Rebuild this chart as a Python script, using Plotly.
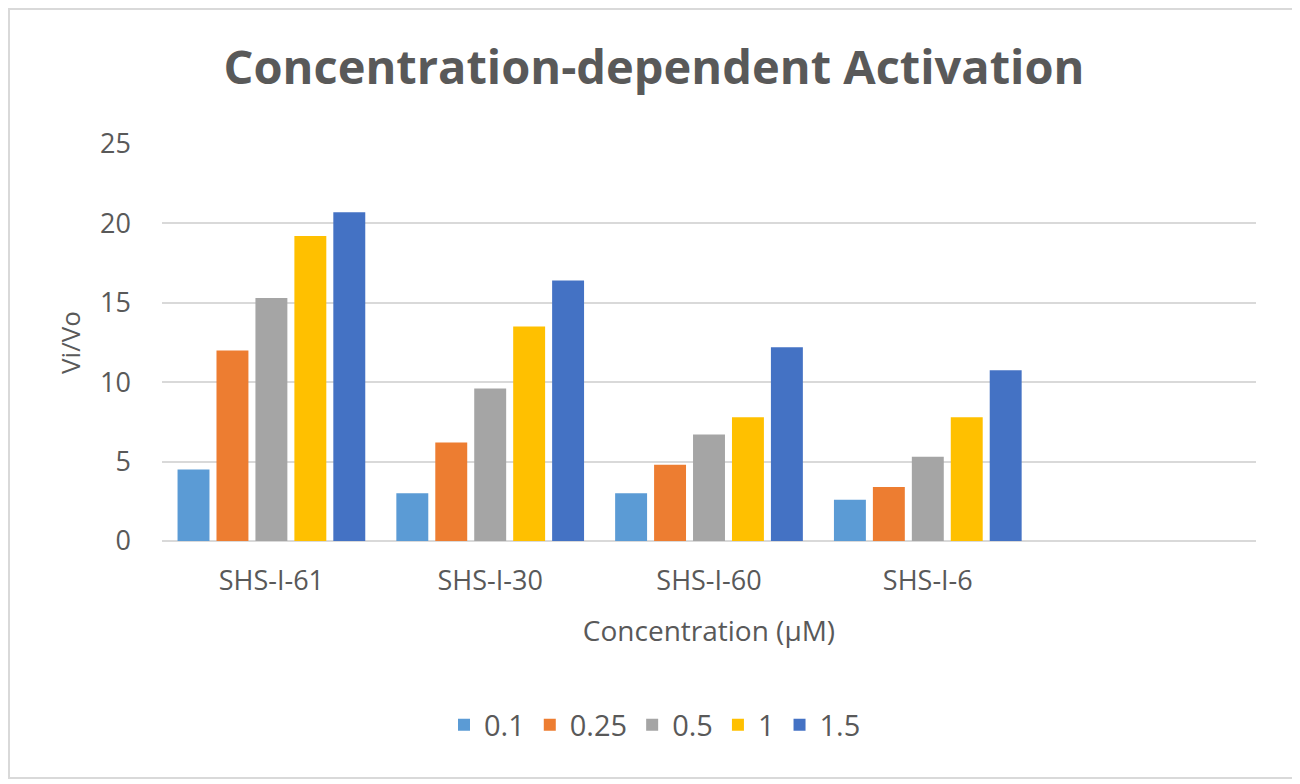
import plotly.graph_objects as go

categories = ["SHS-I-61", "SHS-I-30", "SHS-I-60", "SHS-I-6", " "]
series_names = ["0.1", "0.25", "0.5", "1", "1.5"]
v_01 = [4.5, 3.0, 3.0, 2.6, None]
v_025 = [12.0, 6.2, 4.8, 3.4, None]
v_05 = [15.3, 9.6, 6.7, 5.3, None]
v_1 = [19.2, 13.5, 7.8, 7.8, None]
v_15 = [20.7, 16.4, 12.2, 10.75, None]
colors = ["#5B9BD5", "#ED7D31", "#A5A5A5", "#FFC000", "#4472C4"]
y_ticks = [0, 5, 10, 15, 20, 25]

values = [v_01, v_025, v_05, v_1, v_15]

fig = go.Figure()
for name, vals, col in zip(series_names, values, colors):
    fig.add_trace(go.Bar(x=categories, y=vals, name=name,
                         marker=dict(color=col, line=dict(width=0))))

font_family = "Open Sans, Noto Sans, sans-serif"
grey = "#595959"

# page body has an 8px margin; compensate so marks land where the reference has them
OFF = 8
W, H = 1300 - OFF, 784 - OFF
L, R, T, B = 162 - OFF, 1256 - OFF, 144 - OFF, 541 - OFF
pw, ph = R - L, B - T

def px_x(x):
    return (x - OFF - L) / pw

def px_y(y):
    return (B - (y - OFF)) / ph

fig.update_layout(
    width=W, height=H,
    margin=dict(l=L, r=W - R, t=T, b=H - B, pad=0),
    paper_bgcolor="white", plot_bgcolor="white",
    barmode="group", bargap=0.11, bargroupgap=0.18,
    title=dict(text="<b>Concentration-dependent Activation</b>",
               x=0.5, xanchor="center", y=1 - (68 - OFF) / H, yanchor="middle",
               font=dict(family=font_family, size=47, color=grey)),
    font=dict(family=font_family, color=grey),
    xaxis=dict(showgrid=False, showline=False, ticks="", zeroline=False,
               tickfont=dict(size=27, color=grey), ticklabelstandoff=21,
               title=dict(text="Concentration (μM)", font=dict(size=28, color=grey), standoff=24),
               range=[-0.5, 4.5]),
    yaxis=dict(range=[0, 25], tickvals=y_ticks, showgrid=True, gridcolor="#D9D9D9",
               gridwidth=2, zeroline=True, zerolinecolor="#D9D9D9", zerolinewidth=2,
               showline=False, ticks="", ticklabelstandoff=30,
               tickfont=dict(size=27, color=grey),
               title=dict(text="Vi/Vo", font=dict(size=26, color=grey), standoff=12)),
    legend=dict(orientation="h", x=px_x(655), xanchor="center", y=px_y(725), yanchor="middle",
                font=dict(size=29, color=grey), itemwidth=30, traceorder="normal"),
    shapes=[dict(type="rect", xref="paper", yref="paper",
                 x0=px_x(OFF + 1), x1=px_x(1296), y0=px_y(778), y1=px_y(OFF + 1),
                 line=dict(color="#D9D9D9", width=2), fillcolor="rgba(0,0,0,0)", layer="below")],
)

fig.write_html("out.html")
